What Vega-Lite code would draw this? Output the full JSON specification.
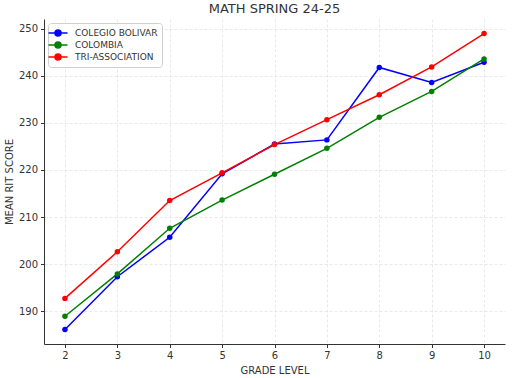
{
  "$schema": "https://vega.github.io/schema/vega-lite/v6.json",
  "autosize": "none",
  "width": 461,
  "height": 325,
  "padding": {"left": 44, "top": 19, "right": 9, "bottom": 34},
  "background": "white",
  "title": {"text": "MATH SPRING 24-25", "font": "DejaVu Sans", "fontSize": 13, "fontWeight": "normal", "color": "#333333", "offset": 3, "anchor": "middle"},
  "config": {
    "font": "DejaVu Sans",
    "view": {"stroke": null},
    "axis": {"labelFont": "DejaVu Sans", "titleFont": "DejaVu Sans", "labelFontSize": 10, "titleFontSize": 10, "titleFontWeight": "normal", "labelColor": "#333333", "titleColor": "#333333", "domainColor": "#333333", "tickColor": "#333333", "tickSize": 3.5, "gridColor": "#e3e3e3", "gridDash": [3, 2], "gridWidth": 0.8}
  },
  "data": {"values": [
    {"grade": 2, "series": "COLEGIO BOLIVAR", "score": 186.1},
    {"grade": 3, "series": "COLEGIO BOLIVAR", "score": 197.3},
    {"grade": 4, "series": "COLEGIO BOLIVAR", "score": 205.7},
    {"grade": 5, "series": "COLEGIO BOLIVAR", "score": 219.2},
    {"grade": 6, "series": "COLEGIO BOLIVAR", "score": 225.5},
    {"grade": 7, "series": "COLEGIO BOLIVAR", "score": 226.4},
    {"grade": 8, "series": "COLEGIO BOLIVAR", "score": 241.8},
    {"grade": 9, "series": "COLEGIO BOLIVAR", "score": 238.6},
    {"grade": 10, "series": "COLEGIO BOLIVAR", "score": 242.9},
    {"grade": 2, "series": "COLOMBIA", "score": 188.9},
    {"grade": 3, "series": "COLOMBIA", "score": 197.9},
    {"grade": 4, "series": "COLOMBIA", "score": 207.6},
    {"grade": 5, "series": "COLOMBIA", "score": 213.6},
    {"grade": 6, "series": "COLOMBIA", "score": 219.1},
    {"grade": 7, "series": "COLOMBIA", "score": 224.6},
    {"grade": 8, "series": "COLOMBIA", "score": 231.2},
    {"grade": 9, "series": "COLOMBIA", "score": 236.7},
    {"grade": 10, "series": "COLOMBIA", "score": 243.6},
    {"grade": 2, "series": "TRI-ASSOCIATION", "score": 192.7},
    {"grade": 3, "series": "TRI-ASSOCIATION", "score": 202.6},
    {"grade": 4, "series": "TRI-ASSOCIATION", "score": 213.5},
    {"grade": 5, "series": "TRI-ASSOCIATION", "score": 219.4},
    {"grade": 6, "series": "TRI-ASSOCIATION", "score": 225.4},
    {"grade": 7, "series": "TRI-ASSOCIATION", "score": 230.7},
    {"grade": 8, "series": "TRI-ASSOCIATION", "score": 236.0},
    {"grade": 9, "series": "TRI-ASSOCIATION", "score": 241.9},
    {"grade": 10, "series": "TRI-ASSOCIATION", "score": 249.0}
  ]},
  "encoding": {
    "x": {"field": "grade", "type": "quantitative", "title": "GRADE LEVEL", "scale": {"domain": [1.6, 10.4], "nice": false, "zero": false}, "axis": {"values": [2, 3, 4, 5, 6, 7, 8, 9, 10], "titlePadding": 5, "labelPadding": 3}},
    "y": {"field": "score", "type": "quantitative", "title": "MEAN RIT SCORE", "scale": {"domain": [183, 252.1], "nice": false, "zero": false}, "axis": {"values": [190, 200, 210, 220, 230, 240, 250], "titlePadding": 4, "labelPadding": 3}},
    "color": {"field": "series", "type": "nominal", "scale": {"domain": ["COLEGIO BOLIVAR", "COLOMBIA", "TRI-ASSOCIATION"], "range": ["#0000ff", "#008000", "#ff0000"]},
      "legend": {"title": null, "orient": "top-left", "offset": 4, "fillColor": "white", "strokeColor": "#d0d0d0", "cornerRadius": 3, "padding": 4, "labelFont": "DejaVu Sans", "labelFontSize": 9, "labelColor": "#333333", "symbolType": "M-1.9,0L1.9,0M-0.6,0A0.6,0.6 0 1,1 0.6,0A0.6,0.6 0 1,1 -0.6,0Z", "symbolSize": 100, "symbolStrokeWidth": 1.5, "rowPadding": 0, "labelOffset": 11}}
  },
  "layer": [
    {"mark": {"type": "line", "strokeWidth": 1.5}},
    {"mark": {"type": "point", "filled": true, "size": 30, "opacity": 1}}
  ]
}
